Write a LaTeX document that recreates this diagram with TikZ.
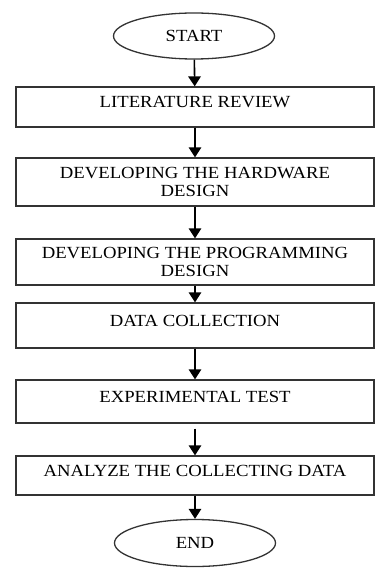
\documentclass[tikz,border=0pt]{standalone}
\usepackage{fontspec}
\setmainfont{Liberation Serif}[FakeStretch=1.1]
\usetikzlibrary{arrows.meta,shapes.geometric}

\begin{document}
\begin{tikzpicture}[x=1pt,y=-1pt,
  box/.style={shape=rectangle,draw=black!80,line width=1.3pt,minimum width=358pt,inner sep=0pt,align=center,font=\fontsize{17}{18.5}\selectfont},
  term/.style={shape=ellipse,draw=black!80,line width=1.3pt,minimum width=161pt,minimum height=46pt,inner sep=0pt,font=\fontsize{17}{18.5}\selectfont},
  arr/.style={line width=1.6pt,-{Triangle[width=12.5pt,length=10pt]}}]
\useasboundingbox (0,0) rectangle (375,569);
\node(0) at (194,36)[term] {START};
\node(1) at (195,107)[box,minimum height=40pt,text depth=10pt] {LITERATURE REVIEW};
\node(2) at (195,182)[box,minimum height=48pt] {DEVELOPING THE HARDWARE\\DESIGN};
\node(3) at (195,262)[box,minimum height=46pt] {DEVELOPING THE PROGRAMMING\\DESIGN};
\node(4) at (195,325.5)[box,minimum height=45pt,text depth=10pt] {DATA COLLECTION};
\node(5) at (195,401.5)[box,minimum height=43pt,text depth=10pt] {EXPERIMENTAL TEST};
\node(6) at (195,475.5)[box,minimum height=39pt,text depth=10pt] {ANALYZE THE COLLECTING DATA};
\node(7) at (195,543)[term,minimum height=47pt] {END};
\path[arr] (0) edge (1);
\path[arr] (1) edge (2);
\path[arr] (2) edge (3);
\path[arr] (3) edge (4);
\path[arr] (4) edge (5);
\path[arr,shorten <=5pt] (5) edge (6);
\path[arr] (6) edge (7);
\end{tikzpicture}
\end{document}
